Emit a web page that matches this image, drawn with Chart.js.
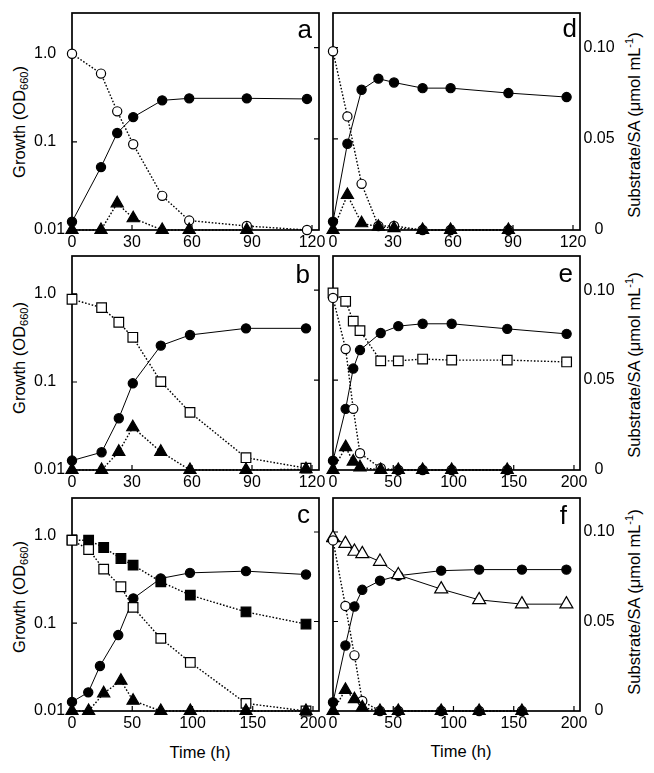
<!DOCTYPE html>
<html>
<head>
<meta charset="utf-8">
<script src="https://cdn.jsdelivr.net/npm/chart.js@4.4.1/dist/chart.umd.min.js"></script>
<style>
  body { margin: 0; background: #fff; }
  #fig { position: relative; width: 654px; height: 773px; font-family: 'Liberation Sans', Arial, sans-serif; color: #000; }
  #fig canvas { position: absolute; }
  .ylab { position: absolute; white-space: nowrap; font-size: 16.5px; transform: translate(-50%, -50%) rotate(-90deg); }
  .xlab { position: absolute; white-space: nowrap; font-size: 16.5px; transform: translate(-50%, -50%); }
  .ylab sub { font-size: 11px; vertical-align: -3px; }
  .ylab sup { font-size: 11px; vertical-align: 7px; }
</style>
</head>
<body>
<div id="fig">
  <div class="ylab" style="left:20px;top:122px">Growth (OD<sub>660</sub>)</div>
  <div class="ylab" style="left:20px;top:358px">Growth (OD<sub>660</sub>)</div>
  <div class="ylab" style="left:20px;top:597px">Growth (OD<sub>660</sub>)</div>
  <div class="ylab" style="left:633px;top:125px">Substrate/SA (μmol mL<sup>-1</sup>)</div>
  <div class="ylab" style="left:633px;top:365px">Substrate/SA (μmol mL<sup>-1</sup>)</div>
  <div class="ylab" style="left:633px;top:602px">Substrate/SA (μmol mL<sup>-1</sup>)</div>
  <div class="xlab" style="left:200px;top:752px">Time (h)</div>
  <div class="xlab" style="left:461px;top:751px">Time (h)</div>
</div>
<script>
// 6 painéis: esquerda = crescimento em log, direita = substrato/SA linear

// eixos
const X_TICKS_120 = [0, 30, 60, 90, 120];
const X_LABELS_120 = ['0', '30', '60', '90', '120'];
const X_TICKS_200 = [0, 50, 100, 150, 200];
const X_LABELS_200 = ['0', '50', '100', '150', '200'];
const LOG_TICKS = [0.01, 0.1, 1];
const LOG_TICK_LABELS = ['0.01', '0.1', '1.0'];
const LIN_TICKS = [0, 0.05, 0.1];
const LIN_TICK_LABELS = ['0', '0.05', '0.10'];
const LIN_MIRROR_TICKS = [0.05, 0.1];

// painel a
const A_TIME      = [0, 14.5, 22.6, 30.6, 45.1, 58.6, 87.4, 117.5];
const A_GROWTH    = [0.0124, 0.0517, 0.126, 0.191, 0.296, 0.312, 0.312, 0.307];
const A_SUBSTRATE = [1.0, 0.595, 0.222, 0.094, 0.0244, 0.0128, 0.0111, 0.0100];
const A_SA        = [0.01, 0.01, 0.0201, 0.0136, 0.01, 0.01, 0.01, null];

// painel b
const B_TIME      = [0, 14.8, 23.4, 30.4, 44.4, 59, 87, 117];
const B_GROWTH    = [0.0128, 0.0159, 0.0387, 0.0966, 0.259, 0.342, 0.407, 0.407];
const B_SUBSTRATE = [0.871, 0.699, 0.477, 0.322, 0.101, 0.0452, 0.0138, 0.0105];
const B_SA        = [0.01, 0.01, 0.0161, 0.0306, 0.0161, 0.01, 0.01, 0.0102];

// painel c
const C_TIME_GROWTH  = [0, 13.5, 23.2, 38.4, 50.9, 73.6, 97.9, 144.4, 194.2];
const C_GROWTH       = [0.0127, 0.0163, 0.0325, 0.0731, 0.191, 0.322, 0.373, 0.390, 0.357];
const C_TIME         = [0, 13.8, 26.3, 40.6, 50.7, 73.7, 98.2, 144.4, 194.2];
const C_SUB_OPEN     = [0.877, 0.688, 0.411, 0.259, 0.151, 0.067, 0.0357, 0.0122, 0.0100];
const C_SUB_FILLED   = [0.877, 0.878, 0.725, 0.543, 0.456, 0.295, 0.208, 0.134, 0.0975];
const C_SA           = [0.01, 0.01, 0.0159, 0.0221, 0.0131, 0.01, 0.01, 0.01, 0.01];

// painel d
const D_TIME      = [0, 7.2, 14.3, 22.7, 30.5, 44.8, 58.8, 87.7, 116.8];
const D_GROWTH    = [0.0046, 0.0473, 0.0769, 0.0830, 0.0809, 0.0778, 0.0778, 0.0751, 0.0729];
const D_SUBSTRATE = [0.098, 0.0623, 0.0253, 0.0022, 0.0022, 0, 0, 0, null];
const D_SA        = [0, 0.0192, 0.0037, 0.0018, 0.001, 0, 0, 0, null];

// painel e
const E_TIME        = [0, 10.5, 16.8, 22.4, 39.6, 54.2, 74.4, 98.5, 144.6, 193.9];
const E_GROWTH      = [0.0052, 0.034, 0.0564, 0.0667, 0.0762, 0.080, 0.0813, 0.0813, 0.0785, 0.0757];
const E_SUB_SQUARE  = [0.0985, 0.0938, 0.0828, 0.0775, 0.0607, 0.0607, 0.0617, 0.0611, 0.0611, 0.0601];
const E_SUB_CIRCLE  = [0.0957, 0.0673, 0.034, 0.0093, 0.001, 0, 0, 0, 0, null];
const E_SA          = [0, 0.0127, 0.0047, 0.0015, 0, 0, 0, 0, 0, null];

// painel f
const F_TIME        = [0, 10.3, 17.8, 24.3, 39, 54.2, 89.8, 121.3, 156.8, 193.7];
const F_GROWTH      = [0.0049, 0.0366, 0.0584, 0.0677, 0.0728, 0.0756, 0.0784, 0.079, 0.079, 0.079];
const F_SUB_TRI     = [0.0967, 0.0935, 0.0891, 0.0878, 0.0835, 0.076, 0.0681, 0.0621, 0.0597, 0.0597];
const F_SUB_CIRCLE  = [0.0953, 0.0587, 0.0311, 0.0056, 0, 0, 0, 0, 0, null];
const F_SA          = [0, 0.0118, 0.0066, 0.002, 0, 0, 0, 0, 0, null];

Chart.defaults.font.family = "'Liberation Sans', Arial, sans-serif";
Chart.defaults.font.size = 16;
Chart.defaults.color = '#000';

const DOT = [1.6, 1.8];
const TICK_LEN = 5;

function pts(time, vals) {
  return time.map((t, i) => ({ x: t, y: vals[i] })).filter(p => p.y !== null && p.y !== undefined);
}

// estilos das séries
const STYLES = {
  growth:      { pointStyle: 'circle',   pointRadius: 4.6, fill: '#000', dash: [],  lw: 1 },
  openCircle:  { pointStyle: 'circle',   pointRadius: 4.6, fill: '#fff', dash: DOT, lw: 1.4 },
  openSquare:  { pointStyle: 'rect',     pointRadius: 6.8, fill: '#fff', dash: DOT, lw: 1.4 },
  fullSquare:  { pointStyle: 'rect',     pointRadius: 6.8, fill: '#000', dash: DOT, lw: 1.4 },
  openTri:     { pointStyle: 'triangle', pointRadius: 7.5, fill: '#fff', dash: [],  lw: 1 },
  sa:          { pointStyle: 'triangle', pointRadius: 7,   fill: '#000', dash: DOT, lw: 1.4 },
};

function ds(kind, data, axis) {
  const s = STYLES[kind];
  return {
    data, yAxisID: axis,
    borderColor: '#000', borderWidth: s.lw, borderDash: s.dash, tension: 0,
    pointStyle: s.pointStyle, pointRadius: s.pointRadius,
    pointBackgroundColor: s.fill, pointBorderColor: '#000', pointBorderWidth: 1.2,
    clip: false,
  };
}

// moldura, ticks para dentro e letra do painel
const frame = {
  id: 'frame',
  beforeDatasetsDraw(chart, args, o) {
    const { ctx, chartArea: a, scales } = chart;
    ctx.save();
    ctx.strokeStyle = '#000';
    ctx.lineWidth = 1.2;
    ctx.beginPath();
    o.xTicks.forEach(v => {
      const px = scales.x.getPixelForValue(v);
      ctx.moveTo(px, a.bottom); ctx.lineTo(px, a.bottom - TICK_LEN);
    });
    o.leftTicks.forEach(v => {
      const py = scales[o.leftAxis].getPixelForValue(v);
      ctx.moveTo(a.left, py); ctx.lineTo(a.left + TICK_LEN, py);
    });
    o.rightTicks.forEach(v => {
      const py = scales[o.rightAxis].getPixelForValue(v);
      ctx.moveTo(a.right, py); ctx.lineTo(a.right - TICK_LEN, py);
    });
    ctx.stroke();
    ctx.lineWidth = 1.7;
    ctx.strokeRect(a.left, a.top, a.right - a.left, a.bottom - a.top);
    ctx.font = "26px 'Liberation Sans', Arial, sans-serif";
    ctx.fillStyle = '#000';
    ctx.textAlign = 'right';
    ctx.textBaseline = 'alphabetic';
    ctx.fillText(o.letter, a.right - o.dx, a.top + o.dy);
    ctx.restore();
  }
};

function xScale(max, ticks, labels) {
  return {
    type: 'linear', position: 'bottom', min: 0, max, bounds: 'data',
    grid: { display: false, drawTicks: false }, border: { display: false },
    ticks: { padding: 3, autoSkip: false, maxRotation: 0, callback: (v, i) => labels[i] },
    afterBuildTicks: s => { s.ticks = ticks.map(v => ({ value: v })); },
    afterFit: s => { s.height = 30; s.paddingLeft = 0; s.paddingRight = 0; },
  };
}

function leftPanel(top, plotH, logMax, xMax, xTicks, xLabels, letter, dx, dy, datasets) {
  return {
    left: 0, top, w: 326, h: 12 + plotH + 30,
    padding: { left: 34, right: 7, top: 12, bottom: 0 },
    datasets,
    scales: {
      x: xScale(xMax, xTicks, xLabels),
      log: {
        type: 'logarithmic', position: 'left', min: 0.01, max: logMax, bounds: 'data',
        grid: { display: false, drawTicks: false }, border: { display: false },
        ticks: { crossAlign: 'far', padding: 4, autoSkip: false, callback: (v, i) => LOG_TICK_LABELS[i] },
        afterBuildTicks: s => { s.ticks = LOG_TICKS.map(v => ({ value: v })); },
        afterFit: s => { s.width = 38; s.paddingTop = 0; s.paddingBottom = 0; },
      },
      lin: { type: 'linear', position: 'right', min: 0, max: 0.119, display: false },
    },
    frame: { xTicks, leftAxis: 'log', leftTicks: LOG_TICKS, rightAxis: 'lin', rightTicks: LIN_MIRROR_TICKS, letter, dx, dy },
  };
}

function rightPanel(top, plotH, xMax, xTicks, xLabels, letter, dx, dy, datasets) {
  return {
    left: 326, top, w: 328, h: 12 + plotH + 30,
    padding: { left: 7, right: 34, top: 12, bottom: 0 },
    datasets,
    scales: {
      x: xScale(xMax, xTicks, xLabels),
      lin: {
        type: 'linear', position: 'right', min: 0, max: 0.119, bounds: 'data',
        grid: { display: false, drawTicks: false }, border: { display: false },
        ticks: { crossAlign: 'center', padding: 3.5, autoSkip: false, callback: (v, i) => LIN_TICK_LABELS[i] },
        afterBuildTicks: s => { s.ticks = LIN_TICKS.map(v => ({ value: v })); },
        afterFit: s => { s.width = 40; s.paddingTop = 0; s.paddingBottom = 0; },
      },
    },
    frame: { xTicks, leftAxis: 'lin', leftTicks: LIN_MIRROR_TICKS, rightAxis: 'lin', rightTicks: [], letter, dx, dy },
  };
}

const PANELS = [
  leftPanel(1, 217, 2.9, 123.5, X_TICKS_120, X_LABELS_120, 'a', 7, 25, [
    ds('sa', pts(A_TIME, A_SA), 'log'),
    ds('openCircle', pts(A_TIME, A_SUBSTRATE), 'log'),
    ds('growth', pts(A_TIME, A_GROWTH), 'log'),
  ]),
  leftPanel(244, 214, 2.7, 123.5, X_TICKS_120, X_LABELS_120, 'b', 9, 27, [
    ds('sa', pts(B_TIME, B_SA), 'log'),
    ds('openSquare', pts(B_TIME, B_SUBSTRATE), 'log'),
    ds('growth', pts(B_TIME, B_GROWTH), 'log'),
  ]),
  leftPanel(486, 213, 2.65, 205, X_TICKS_200, X_LABELS_200, 'c', 9, 25, [
    ds('sa', pts(C_TIME, C_SA), 'log'),
    ds('openSquare', pts(C_TIME, C_SUB_OPEN), 'log'),
    ds('fullSquare', pts(C_TIME, C_SUB_FILLED), 'log'),
    ds('growth', pts(C_TIME_GROWTH, C_GROWTH), 'log'),
  ]),
  rightPanel(1, 217, 123.5, X_TICKS_120, X_LABELS_120, 'd', 3, 24, [
    ds('sa', pts(D_TIME, D_SA), 'lin'),
    ds('openCircle', pts(D_TIME, D_SUBSTRATE), 'lin'),
    ds('growth', pts(D_TIME, D_GROWTH), 'lin'),
  ]),
  rightPanel(244, 214, 205, X_TICKS_200, X_LABELS_200, 'e', 7, 26, [
    ds('sa', pts(E_TIME, E_SA), 'lin'),
    ds('openCircle', pts(E_TIME, E_SUB_CIRCLE), 'lin'),
    ds('openSquare', pts(E_TIME, E_SUB_SQUARE), 'lin'),
    ds('growth', pts(E_TIME, E_GROWTH), 'lin'),
  ]),
  rightPanel(486, 213, 205, X_TICKS_200, X_LABELS_200, 'f', 13, 26, [
    ds('sa', pts(F_TIME, F_SA), 'lin'),
    ds('openCircle', pts(F_TIME, F_SUB_CIRCLE), 'lin'),
    ds('openTri', pts(F_TIME, F_SUB_TRI), 'lin'),
    ds('growth', pts(F_TIME, F_GROWTH), 'lin'),
  ]),
];

const fig = document.getElementById('fig');
PANELS.forEach(p => {
  const cv = document.createElement('canvas');
  cv.width = p.w; cv.height = p.h;
  cv.style.left = p.left + 'px'; cv.style.top = p.top + 'px';
  cv.style.width = p.w + 'px'; cv.style.height = p.h + 'px';
  fig.appendChild(cv);
  new Chart(cv.getContext('2d'), {
    type: 'line',
    data: { datasets: p.datasets },
    options: {
      responsive: false, animation: false, events: [],
      layout: { autoPadding: false, padding: p.padding },
      plugins: { legend: { display: false }, tooltip: { enabled: false }, frame: p.frame },
      scales: p.scales,
    },
    plugins: [frame],
  });
});
</script>
</body>
</html>
